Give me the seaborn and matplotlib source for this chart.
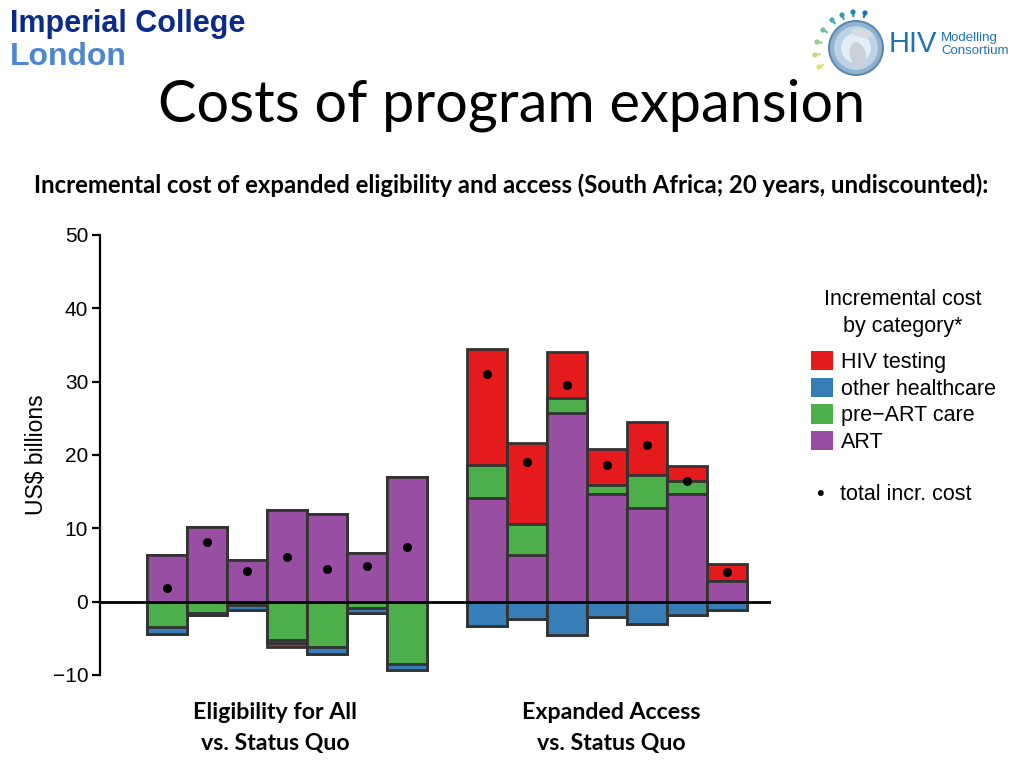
import matplotlib
matplotlib.use("Agg")
import matplotlib.pyplot as plt
from matplotlib.patches import Patch, Circle, Ellipse
import seaborn as sns
import numpy as np

# ---------------- data ----------------
scenarios_all = ["EA1", "EA2", "EA3", "EA4", "EA5", "EA6", "EA7"]
scenarios_acc = ["AC1", "AC2", "AC3", "AC4", "AC5", "AC6", "AC7"]
order = scenarios_all + ["gap"] + scenarios_acc
cats = scenarios_all + scenarios_acc

art = [6.3, 10.15, 5.75, 12.55, 11.9, 6.7, 17.0,
       14.2, 6.3, 25.7, 14.7, 12.8, 14.65, 2.8]
preart_pos = [0, 0, 0, 0, 0, 0, 0,
              4.4, 4.35, 2.1, 1.15, 4.5, 1.75, 0]
testing_pos = [0, 0, 0, 0, 0, 0, 0,
               15.9, 11.05, 6.3, 5.0, 7.2, 2.1, 2.4]
preart_neg = [-3.5, -1.5, -0.4, -5.2, -6.15, -0.85, -8.5,
              0, 0, 0, 0, 0, 0, 0]
other_neg = [-0.9, -0.3, -0.8, -0.5, -0.95, -0.7, -0.8,
             -3.3, -2.4, -4.5, -2.1, -3.0, -1.8, -1.15]
testing_neg = [0, 0, 0, -0.5, 0, 0, 0,
               0, 0, 0, 0, 0, 0, 0]
total = [1.8, 8.1, 4.2, 6.05, 4.5, 4.9, 7.5,
         31.1, 19.1, 29.5, 18.6, 21.4, 16.5, 4.0]

group_labels = ["Eligibility for All\nvs. Status Quo", "Expanded Access\nvs. Status Quo"]
legend_labels = ["HIV testing", "other healthcare", "pre\u2212ART care", "ART"]

C_RED, C_BLUE, C_GREEN, C_PURPLE = "#E41A1C", "#377EB8", "#4DAF4A", "#984EA3"
EDGE = "#333333"

# ---------------- figure ----------------
sns.set_theme(style="white")
plt.rcParams["font.family"] = ["Liberation Sans", "DejaVu Sans"]
plt.rcParams["text.color"] = "black"
plt.rcParams["axes.labelcolor"] = "black"

fig = plt.figure(figsize=(10.24, 7.68), dpi=100)
W, H = 1024, 768
ax = fig.add_axes([100 / W, (H - 675) / H, (771 - 100) / W, 440 / H])

a = np.array(art)
pos_green = a + np.array(preart_pos)
pos_red = pos_green + np.array(testing_pos)
neg_green = np.array(preart_neg)
neg_blue = neg_green + np.array(other_neg)
neg_red = neg_blue + np.array(testing_neg)

layers = [(pos_red, C_RED), (pos_green, C_GREEN), (a, C_PURPLE),
          (neg_red, C_RED), (neg_blue, C_BLUE), (neg_green, C_GREEN)]
for vals, col in layers:
    sns.barplot(x=cats, y=vals, order=order, color=col, saturation=1,
                width=1.0, edgecolor=EDGE, linewidth=2, errorbar=None, ax=ax)

sns.stripplot(x=cats, y=total, order=order, jitter=False, color="black",
              size=6.5, linewidth=0, ax=ax, zorder=5)

ax.axhline(0, color="black", lw=2, zorder=4)
ax.set_xlim(-1.675, 15.1)
ax.set_ylim(-10, 50)
ax.set_xticks([])
ax.set_xlabel("")
ax.set_yticks([-10, 0, 10, 20, 30, 40, 50])
ax.set_yticklabels(["\u221210", "0", "10", "20", "30", "40", "50"])
for s in ["top", "right", "bottom"]:
    ax.spines[s].set_visible(False)
ax.spines["left"].set_bounds(-10, 50)
ax.spines["left"].set_linewidth(1.6)
ax.spines["left"].set_color("black")
ax.tick_params(axis="y", left=True, length=5.5, width=1.6, color="black",
               labelsize=15, pad=3, labelcolor="black")
ax.set_ylabel("US$ billions", fontsize=16.5, color="black")
ax.yaxis.set_label_coords((48 - 100) / 671, 0.5)
ax.set_facecolor("white")

# legend
fig.text(903 / W, 1 - 313 / H, "Incremental cost\nby category*", fontsize=15.5,
         ha="center", va="center", multialignment="center", linespacing=1.38)
handles = [Patch(facecolor=c, edgecolor="none") for c in [C_RED, C_BLUE, C_GREEN, C_PURPLE]]
leg = fig.legend(handles, legend_labels,
                 loc="upper left", bbox_to_anchor=(811 / W, 1 - 351 / H),
                 frameon=False, fontsize=15.5,
                 handlelength=1.0, handleheight=1.0, handletextpad=0.4,
                 labelspacing=0.22, borderaxespad=0, borderpad=0)
fig.text(816 / W, 1 - 494 / H, "\u2022", fontsize=15.5, ha="left", va="center")
fig.text(840 / W, 1 - 494 / H, "total incr. cost", fontsize=15.5, ha="left", va="center")

# titles
fig.text(0.5, 1 - 105 / H, "Costs of program expansion", fontsize=41.5,
         family=["Lato", "DejaVu Sans"], ha="center", va="center")
fig.text(511 / W, 1 - 185 / H,
         "Incremental cost of expanded eligibility and access (South Africa; 20 years, undiscounted):",
         fontsize=17.2, fontweight="bold", family=["Lato", "DejaVu Sans"],
         ha="center", va="center")
fig.text(275 / W, 1 - 728 / H, group_labels[0], fontsize=16.7, fontweight="bold",
         family=["Lato", "DejaVu Sans"], ha="center", va="center", linespacing=1.55)
fig.text(611 / W, 1 - 728 / H, group_labels[1], fontsize=16.7, fontweight="bold",
         family=["Lato", "DejaVu Sans"], ha="center", va="center", linespacing=1.55)

# Imperial College logo text
fig.text(10 / W, 1 - 24 / H, "Imperial College", fontsize=22, fontweight="bold",
         family=["Liberation Sans", "DejaVu Sans"], color="#0A2A8C",
         ha="left", va="center")
fig.text(10 / W, 1 - 57 / H, "London", fontsize=23, fontweight="bold",
         family=["Liberation Sans", "DejaVu Sans"], color="#4F86D0",
         ha="left", va="center")

# HIV Modelling Consortium logo
lax = fig.add_axes([805 / W, 1 - 85 / H, 80 / W, 80 / H])
lax.set_xlim(805, 885)
lax.set_ylim(85, 5)
lax.set_aspect("equal")
lax.axis("off")
for r, c in [(28, "#5b86ad"), (26, "#8fb2d0"), (22, "#bcd3e6"), (15, "#e3edf5")]:
    lax.add_patch(Circle((856, 48), r, color=c, lw=0))
lax.add_patch(Ellipse((858, 55), 16, 26, angle=-15, color="#c9d2db", lw=0))
lax.add_patch(Ellipse((862, 33), 22, 9, angle=10, color="#d5dce3", lw=0))
pins = [(865, 13, "#1B6FB5"), (853, 12, "#1B86B8"), (842, 15, "#2A9CB5"),
        (832, 20, "#46AFAE"), (823, 30, "#6CBFA2"), (817, 42, "#9BCB8D"),
        (815, 55, "#C2D77A"), (819, 67, "#DCE06A")]
for px, py, c in pins:
    lax.plot([px, px + (856 - px) * 0.12], [py, py + (48 - py) * 0.12], color=c, lw=1.5)
    lax.add_patch(Circle((px, py), 2.6, color=c, lw=0))
fig.text(889 / W, 1 - 44 / H, "HIV", fontsize=21, color="#1E73B5",
         family=["Liberation Sans", "DejaVu Sans"], ha="left", va="center")
fig.text(941 / W, 1 - 38 / H, "Modelling", fontsize=9.5, color="#1E73B5",
         family=["Liberation Sans", "DejaVu Sans"], ha="left", va="center")
fig.text(941 / W, 1 - 51 / H, "Consortium", fontsize=9.5, color="#1E73B5",
         family=["Liberation Sans", "DejaVu Sans"], ha="left", va="center")

fig.savefig("out.png", dpi=100, facecolor="white")
